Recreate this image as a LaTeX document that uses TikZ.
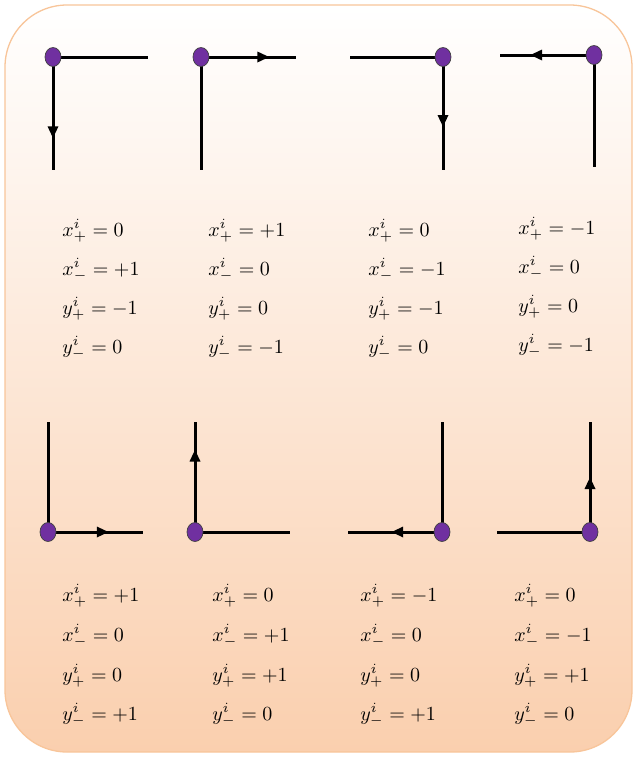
\documentclass[tikz,border=0pt]{standalone}
\usetikzlibrary{arrows.meta,decorations.markings,shapes.geometric}
\definecolor{peach}{HTML}{FACFAE}
\definecolor{peachmid}{HTML}{FDEADD}
\definecolor{rimcol}{HTML}{F8C59A}
\definecolor{dotcol}{HTML}{7030A0}
\tikzset{
  seg/.style={line width=3pt},
  arrowseg/.style={seg, postaction={decorate}, decoration={markings,
     mark=at position #1 with {\arrow{Triangle[length=12pt,width=10pt]}}}},
  vdot/.style={ellipse, draw=black!75, line width=0.7pt, fill=dotcol,
     minimum width=16pt, minimum height=19pt, inner sep=0pt},
  lab/.style={anchor=base west, inner sep=0pt, scale=2.0, transform shape}
}
\begin{document}
\begin{tikzpicture}[x=1pt,y=-1pt]
\useasboundingbox (0,0) rectangle (637,758);
\shade[rounded corners=62pt, top color=white, middle color=peachmid, bottom color=peach]
  (5,5) rectangle (632,752);
\draw[rimcol, line width=1.3pt, rounded corners=62pt] (5,5) rectangle (632,752);

% ---- top row glyphs ----
\coordinate (c1) at (53,57);  \coordinate (h1) at (148,57);  \coordinate (v1) at (53,170);
\draw[seg] (c1) -- (h1);
\draw[arrowseg=0.72] (c1) -- (v1);
\node[vdot] (d1) at (c1) {};

\coordinate (c2) at (201,57); \coordinate (h2) at (296,57); \coordinate (v2) at (201,170);
\draw[arrowseg=0.72] (c2) -- (h2);
\draw[seg] (c2) -- (v2);
\node[vdot] (d2) at (c2) {};

\coordinate (c3) at (443,57); \coordinate (h3) at (350,57); \coordinate (v3) at (443,170);
\draw[seg] (c3) -- (h3);
\draw[arrowseg=0.62] (c3) -- (v3);
\node[vdot] (d3) at (c3) {};

\coordinate (c4) at (594,55); \coordinate (h4) at (500,55); \coordinate (v4) at (594,167);
\draw[arrowseg=0.68] (c4) -- (h4);
\draw[seg] (c4) -- (v4);
\node[vdot] (d4) at (c4) {};

% ---- bottom row glyphs ----
\coordinate (c5) at (48,532); \coordinate (h5) at (143,532); \coordinate (v5) at (48,422);
\draw[arrowseg=0.64] (c5) -- (h5);
\draw[seg] (c5) -- (v5);
\node[vdot] (d5) at (c5) {};

\coordinate (c6) at (195,532); \coordinate (h6) at (290,532); \coordinate (v6) at (195,422);
\draw[seg] (c6) -- (h6);
\draw[arrowseg=0.75] (c6) -- (v6);
\node[vdot] (d6) at (c6) {};

\coordinate (c7) at (442,532); \coordinate (h7) at (348,532); \coordinate (v7) at (442,422);
\draw[arrowseg=0.54] (c7) -- (h7);
\draw[seg] (c7) -- (v7);
\node[vdot] (d7) at (c7) {};

\coordinate (c8) at (590,532); \coordinate (h8) at (497,532); \coordinate (v8) at (590,422);
\draw[seg] (c8) -- (h8);
\draw[arrowseg=0.5] (c8) -- (v8);
\node[vdot] (d8) at (c8) {};

% ---- labels top ----
\node[lab] (t1a) at (62,236) {$x_{+}^{i}=0$};
\node[lab] (t1b) at (62,275) {$x_{-}^{i}=+1$};
\node[lab] (t1c) at (62,314) {$y_{+}^{i}=-1$};
\node[lab] (t1d) at (62,353) {$y_{-}^{i}=0$};

\node[lab] (t2a) at (208,236) {$x_{+}^{i}=+1$};
\node[lab] (t2b) at (208,275) {$x_{-}^{i}=0$};
\node[lab] (t2c) at (208,314) {$y_{+}^{i}=0$};
\node[lab] (t2d) at (208,353) {$y_{-}^{i}=-1$};

\node[lab] (t3a) at (368,236) {$x_{+}^{i}=0$};
\node[lab] (t3b) at (368,275) {$x_{-}^{i}=-1$};
\node[lab] (t3c) at (368,314) {$y_{+}^{i}=-1$};
\node[lab] (t3d) at (368,353) {$y_{-}^{i}=0$};

\node[lab] (t4a) at (518,234) {$x_{+}^{i}=-1$};
\node[lab] (t4b) at (518,273) {$x_{-}^{i}=0$};
\node[lab] (t4c) at (518,312) {$y_{+}^{i}=0$};
\node[lab] (t4d) at (518,351) {$y_{-}^{i}=-1$};

% ---- labels bottom ----
\node[lab] (b1a) at (62,601) {$x_{+}^{i}=+1$};
\node[lab] (b1b) at (62,641) {$x_{-}^{i}=0$};
\node[lab] (b1c) at (62,681) {$y_{+}^{i}=0$};
\node[lab] (b1d) at (62,720) {$y_{-}^{i}=+1$};

\node[lab] (b2a) at (212,601) {$x_{+}^{i}=0$};
\node[lab] (b2b) at (212,641) {$x_{-}^{i}=+1$};
\node[lab] (b2c) at (212,681) {$y_{+}^{i}=+1$};
\node[lab] (b2d) at (212,720) {$y_{-}^{i}=0$};

\node[lab] (b3a) at (360,601) {$x_{+}^{i}=-1$};
\node[lab] (b3b) at (360,641) {$x_{-}^{i}=0$};
\node[lab] (b3c) at (360,681) {$y_{+}^{i}=0$};
\node[lab] (b3d) at (360,720) {$y_{-}^{i}=+1$};

\node[lab] (b4a) at (514,601) {$x_{+}^{i}=0$};
\node[lab] (b4b) at (514,641) {$x_{-}^{i}=-1$};
\node[lab] (b4c) at (514,681) {$y_{+}^{i}=+1$};
\node[lab] (b4d) at (514,720) {$y_{-}^{i}=0$};
\end{tikzpicture}
\end{document}
